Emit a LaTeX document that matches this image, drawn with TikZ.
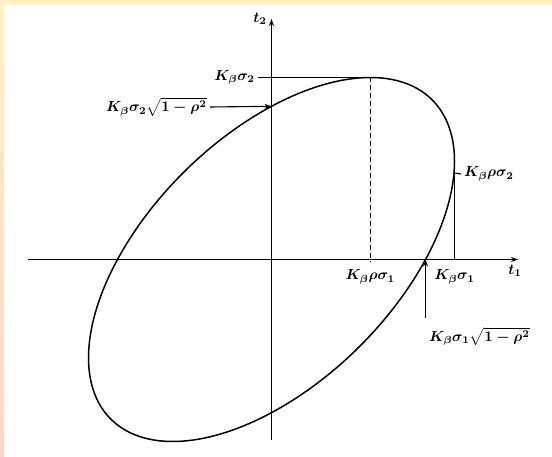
\documentclass[tikz,border=0pt]{standalone}
\usetikzlibrary{arrows.meta}
\definecolor{bgyellow}{HTML}{FFF0C2}
\definecolor{bgpink}{HTML}{FFD5CF}
\begin{document}
\begin{tikzpicture}[x=1pt,y=-1pt,
  axis/.style={line width=1.1pt},
  curve/.style={line width=1.5pt},
  guide/.style={line width=1.1pt},
  tip/.style={-{Stealth[length=7pt,width=5pt]}},
  lab/.style={scale=1.47, inner sep=2pt, font=\boldmath},
]
\useasboundingbox (0,0) rectangle (552,457);
\fill[white] (0,0) rectangle (552,457);
\fill[bgyellow] (0,0) rectangle (552,5);
\shade[top color=bgyellow, bottom color=bgpink] (0,5) rectangle (4,457);

% key points
\coordinate (O) at (271.5,259.5);
\coordinate (top) at ({271.5+183*0.54},{259.5-182});
\coordinate (right) at ({271.5+183},{259.5-182*0.54});
\coordinate (rt) at (454.5,173);
\coordinate (c2) at (271.5,{259.5-182*0.8417});
\coordinate (c1) at ({271.5+183*0.8417},259.5);
\coordinate (xs) at (28,259.5);
\coordinate (xe) at (518,259.5);
\coordinate (ys) at (271.5,440);
\coordinate (ye) at (271.5,19);
\coordinate (a1s) at ({271.5+183*0.8417},318);

% axes
\draw[axis,tip] (xs) -- (xe);
\draw[axis,tip] (ys) -- (ye);
\node[lab] (t2) at (260,19) {$t_2$};
\node[lab] (t1) at (515,271) {$t_1$};

% ellipse
\draw[curve] plot[domain=0:360, samples=240, smooth cycle]
  ({271.5+183*cos(\x)},{259.5-182*(0.54*cos(\x)+0.8417*sin(\x))});

% labels and guides
\node[lab, anchor=east] (k2) at (258,77.5) {$K_\beta\sigma_2$};
\draw[guide] (k2.east) -- (top);
\draw[guide, dash pattern=on 5pt off 3pt] (top) -- ([yshift=-3pt]top |- O);
\node[lab, anchor=north] (kr1) at ([yshift=-7pt]top |- O) {$K_\beta\rho\sigma_1$};

\draw[guide] (right) -- (right |- O);
\node[lab, anchor=north] (k1) at ([yshift=-7pt]right |- O) {$K_\beta\sigma_1$};

\node[lab, anchor=west] (kr2) at (461,174) {$K_\beta\rho\sigma_2$};
\draw[guide] (rt) -- (kr2.west);

\node[lab, anchor=east] (ks2) at (210,107) {$K_\beta\sigma_2\sqrt{1-\rho^2}$};
\draw[guide,tip] (ks2.east) -- (c2);

\node[lab, anchor=north west] (ks1) at (426,324) {$K_\beta\sigma_1\sqrt{1-\rho^2}$};
\draw[guide,tip] (a1s) -- (c1);
\end{tikzpicture}
\end{document}
